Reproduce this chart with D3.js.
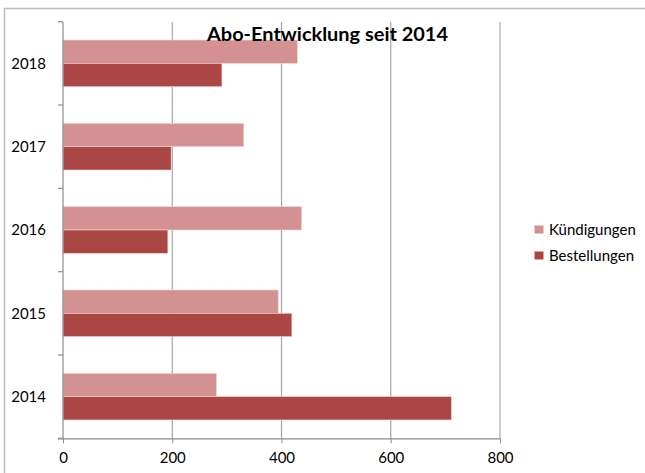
<!DOCTYPE html>
<html>
<head>
<meta charset="utf-8">
<script src="https://cdn.jsdelivr.net/npm/d3@7"></script>
<style>
  html, body { margin: 0; padding: 0; background: #fff; }
  svg { display: block; }
  text { font-family: Lato, "Open Sans", sans-serif; fill: #000; }
</style>
</head>
<body>
<svg id="chart" width="645" height="473"></svg>
<script>
const categories = ["2018", "2017", "2016", "2015", "2014"];
const seriesNames = ["Kündigungen", "Bestellungen"];
const kuendigungen = [429, 331, 437, 394, 281];
const bestellungen = [291, 198, 192, 419, 711];
const xTicks = [0, 200, 400, 600, 800];
const colors = ["#d39191", "#aa4744"];
const title = "Abo-Entwicklung seit 2014";

const svg = d3.select("#chart");

// outer frame
svg.append("rect")
  .attr("x", 4.5).attr("y", 8.5).attr("width", 700).attr("height", 600)
  .attr("fill", "none").attr("stroke", "#bdbdbd").attr("stroke-width", 1.5);

const plot = { left: 63, right: 500, top: 21.7, bottom: 438.3 };

const x = d3.scaleLinear().domain([0, 800]).range([plot.left, plot.right]);
const y = d3.scaleBand().domain(categories).range([plot.top, plot.bottom]).padding(0);
const yInner = d3.scaleBand().domain(seriesNames)
  .range([y.bandwidth() * 0.22, y.bandwidth() * 0.78]).padding(0);

// gridlines
svg.append("g").selectAll("line").data(xTicks.filter(d => d > 0)).join("line")
  .attr("x1", d => x(d)).attr("x2", d => x(d))
  .attr("y1", plot.top).attr("y2", plot.bottom)
  .attr("stroke", "#a6a6a6").attr("stroke-width", 1.2);

// bars
const data = categories.map((c, i) => ({ cat: c, values: [kuendigungen[i], bestellungen[i]] }));
const groups = svg.append("g").selectAll("g").data(data).join("g")
  .attr("transform", d => `translate(0,${y(d.cat)})`);
groups.selectAll("rect").data(d => d.values.map((v, j) => ({ name: seriesNames[j], v, j })))
  .join("rect")
  .attr("x", x(0))
  .attr("y", d => yInner(d.name))
  .attr("width", d => x(d.v) - x(0))
  .attr("height", yInner.bandwidth())
  .attr("fill", d => colors[d.j])
  .attr("stroke", "#f2d6d6").attr("stroke-width", 0.6);

// x axis
const xAxis = d3.axisBottom(x).tickValues(xTicks).tickSize(5).tickPadding(9).tickFormat(d3.format("d"));
const gx = svg.append("g").attr("transform", `translate(0,${plot.bottom})`).call(xAxis);
gx.select(".domain").attr("stroke", "#8c8c8c").attr("stroke-width", 1.2)
  .attr("d", `M${plot.left - 5},0.5H${plot.right}`);
gx.selectAll(".tick line").attr("stroke", "#8c8c8c");
gx.selectAll(".tick text").attr("font-size", 15).attr("font-family", "Lato, sans-serif").attr("fill", "#000");

// y axis
const gy = svg.append("g").attr("transform", `translate(${plot.left},0)`);
gy.append("line").attr("x1", 0).attr("x2", 0).attr("y1", plot.top).attr("y2", plot.bottom)
  .attr("stroke", "#8c8c8c").attr("stroke-width", 1.2);
const bounds = categories.map(c => y(c)).concat([plot.bottom]);
gy.selectAll("line.t").data(bounds).join("line").attr("class", "t")
  .attr("x1", -5).attr("x2", 0).attr("y1", d => d).attr("y2", d => d)
  .attr("stroke", "#8c8c8c").attr("stroke-width", 1.2);
svg.append("g").selectAll("text").data(categories).join("text")
  .attr("x", 46).attr("y", d => y(d) + y.bandwidth() / 2)
  .attr("dy", "0.35em").attr("text-anchor", "end").attr("font-size", 15)
  .text(d => d);

// title
svg.append("text").attr("x", 327.5).attr("y", 40.5).attr("text-anchor", "middle")
  .attr("font-size", 19).attr("font-weight", "bold")
  .attr("textLength", 241).attr("lengthAdjust", "spacingAndGlyphs")
  .text(title);

// legend
const legend = svg.append("g");
const legY = [229.5, 255.5];
seriesNames.forEach((n, i) => {
  legend.append("rect").attr("x", 534.5).attr("y", legY[i] - 4).attr("width", 9).attr("height", 8)
    .attr("fill", colors[i]);
  legend.append("text").attr("x", 549).attr("y", legY[i]).attr("dy", "0.35em")
    .attr("font-size", 15).text(n);
});
</script>
</body>
</html>
